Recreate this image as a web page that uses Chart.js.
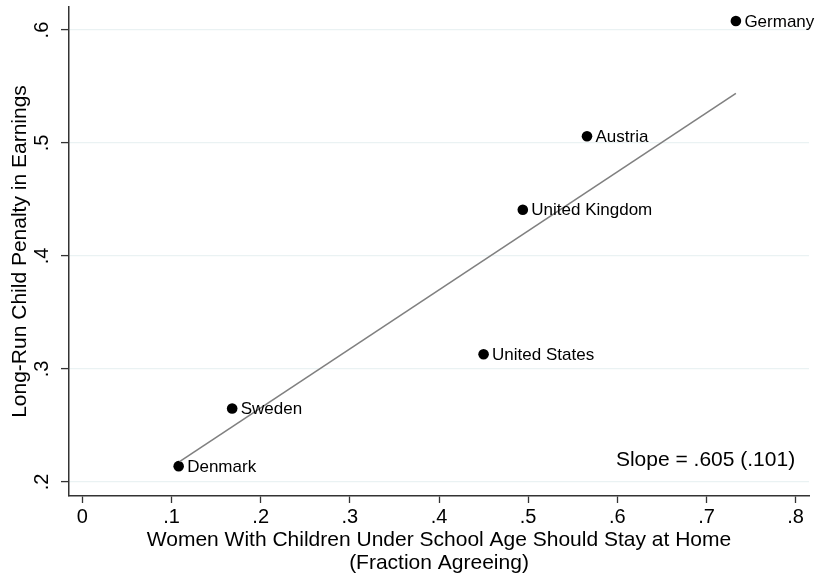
<!DOCTYPE html>
<html>
<head>
<meta charset="utf-8">
<script src="https://cdn.jsdelivr.net/npm/chart.js@4/dist/chart.umd.min.js"></script>
<style>
  html, body { margin: 0; padding: 0; background: #fff; }
  #wrap { width: 817px; height: 574px; position: relative; }
</style>
</head>
<body>
<div id="wrap"><canvas id="c" width="817" height="574"></canvas></div>
<script>
// Countries and their values
const countries = ['Germany', 'Austria', 'United Kingdom', 'United States', 'Sweden', 'Denmark'];
const agreeShare = [0.733, 0.566, 0.494, 0.450, 0.168, 0.108];   // fraction agreeing
const childPenalty = [0.608, 0.506, 0.441, 0.313, 0.265, 0.214]; // long-run penalty

// Fitted line end points
const fitX = [0.109, 0.733];
const fitY = [0.218, 0.544];

// Axis ticks
const xTicks = [0, 0.1, 0.2, 0.3, 0.4, 0.5, 0.6, 0.7, 0.8];
const yTicks = [0.2, 0.3, 0.4, 0.5, 0.6];

const slopeText = 'Slope = .605 (.101)';
const xTitle = ['Women With Children Under School Age Should Stay at Home', '(Fraction Agreeing)'];
const yTitle = 'Long-Run Child Penalty in Earnings';

const FONT = '"Liberation Sans", Arial, Helvetica, sans-serif';

function fmt(v) {
  if (v === 0) return '0';
  return String(Math.round(v * 10) / 10).replace(/^0/, '');
}

const pointData = agreeShare.map((x, i) => ({ x: x, y: childPenalty[i] }));
const fitData = fitX.map((x, i) => ({ x: x, y: fitY[i] }));

const textPlugin = {
  id: 'texts',
  afterDatasetsDraw(chart) {
    const ctx = chart.ctx;
    // point labels, to the right of each marker
    const meta = chart.getDatasetMeta(1);
    ctx.save();
    ctx.fillStyle = '#000';
    ctx.font = '17px ' + FONT;
    ctx.textAlign = 'left';
    ctx.textBaseline = 'middle';
    meta.data.forEach((el, i) => {
      ctx.fillText(countries[i], el.x + 8.5, el.y + 1);
    });
    ctx.restore();
  },
  afterDraw(chart) {
    const ctx = chart.ctx;
    const ys = chart.scales.y;
    const xs = chart.scales.x;
    const area = chart.chartArea;
    ctx.save();
    ctx.fillStyle = '#000';

    // vertical tick labels on the y axis
    ctx.font = '20px ' + FONT;
    ctx.textAlign = 'center';
    ctx.textBaseline = 'middle';
    yTicks.forEach(v => {
      const py = ys.getPixelForValue(v);
      ctx.save();
      ctx.translate(42, py);
      ctx.rotate(-Math.PI / 2);
      ctx.fillText(fmt(v), 0, 0);
      ctx.restore();
    });

    // y axis title
    ctx.font = '21px ' + FONT;
    ctx.save();
    ctx.translate(20, (area.top + area.bottom) / 2);
    ctx.rotate(-Math.PI / 2);
    ctx.fillText(yTitle, 0, 0);
    ctx.restore();

    // x axis title (two lines)
    const cx = (area.left + area.right) / 2;
    ctx.fillText(xTitle[0], cx, 540);
    ctx.fillText(xTitle[1], cx, 563);

    // slope note
    ctx.textAlign = 'right';
    ctx.fillText(slopeText, xs.getPixelForValue(0.8) - 0.5, 460);
    ctx.restore();
  }
};

new Chart(document.getElementById('c'), {
  type: 'scatter',
  data: {
    datasets: [
      {
        type: 'line',
        data: fitData,
        borderColor: '#808080',
        borderWidth: 1.6,
        pointRadius: 0,
        fill: false,
        tension: 0,
        order: 1
      },
      {
        data: pointData,
        backgroundColor: '#000',
        borderColor: '#000',
        borderWidth: 0,
        pointRadius: 5.3,
        order: 2
      }
    ]
  },
  options: {
    responsive: false,
    animation: false,
    devicePixelRatio: 1,
    layout: { padding: { top: 7, right: 8, left: 0, bottom: 0 } },
    plugins: {
      legend: { display: false },
      tooltip: { enabled: false }
    },
    scales: {
      x: {
        type: 'linear',
        min: -0.015,
        max: 0.815,
        afterBuildTicks: s => { s.ticks = xTicks.map(v => ({ value: v })); },
        afterFit: s => { s.height = 78; },
        ticks: {
          color: '#000',
          font: { family: FONT, size: 20 },
          padding: 2,
          maxRotation: 0,
          minRotation: 0,
          callback: v => fmt(v)
        },
        grid: {
          drawOnChartArea: false,
          drawTicks: true,
          tickLength: 7,
          tickColor: '#333',
          tickWidth: 1.3
        },
        border: { display: true, color: '#333', width: 1.5 }
      },
      y: {
        type: 'linear',
        min: 0.1876,
        max: 0.6204,
        afterBuildTicks: s => { s.ticks = yTicks.map(v => ({ value: v })); },
        afterFit: s => { s.width = 69; },
        ticks: { display: false },
        grid: {
          color: '#eaf2f3',
          lineWidth: 1.2,
          drawTicks: true,
          tickLength: 8,
          tickColor: '#333',
          tickWidth: 1.3
        },
        border: { display: true, color: '#333', width: 1.5 }
      }
    }
  },
  plugins: [textPlugin]
});
</script>
</body>
</html>
